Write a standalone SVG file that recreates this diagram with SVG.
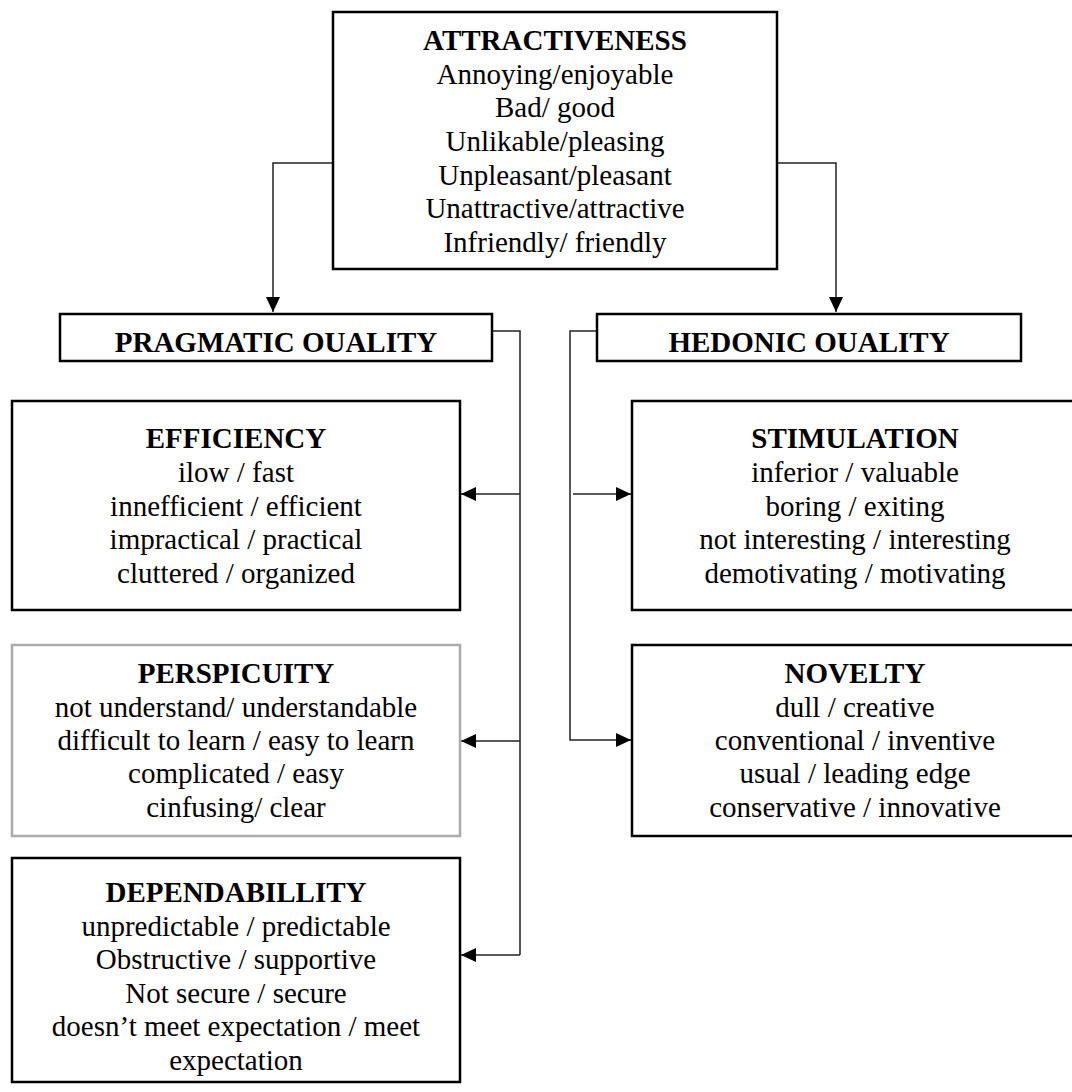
<svg xmlns="http://www.w3.org/2000/svg" width="1072" height="1092" viewBox="0 0 1072 1092">
<style>
.box{fill:#fff;stroke:#000;stroke-width:2.5}
.gray{fill:#fff;stroke:#aaaaaa;stroke-width:2.5}
.t{font-family:"Liberation Serif","Times New Roman",serif;font-size:29px;fill:#000;text-anchor:middle}
.b{font-weight:bold}
.c{fill:none;stroke:#222;stroke-width:1.5}
</style>
<defs>
<marker id="arr" markerUnits="userSpaceOnUse" markerWidth="16" markerHeight="14" refX="15" refY="7" orient="auto">
<path d="M0,0 L15,7 L0,14 Z" fill="#000"/>
</marker>
</defs>
<rect width="1072" height="1092" fill="#fff"/>
<g id="connectors">
<path class="c" d="M333,163 H273 V312" marker-end="url(#arr)"/>
<path class="c" d="M777,163 H836 V312" marker-end="url(#arr)"/>
<path class="c" d="M492,331 H520 V955"/>
<path class="c" d="M520,494 H461" marker-end="url(#arr)"/>
<path class="c" d="M520,741 H461" marker-end="url(#arr)"/>
<path class="c" d="M520,955 H461" marker-end="url(#arr)"/>
<path class="c" d="M597,331 H570 V740 H631" marker-end="url(#arr)"/>
<path class="c" d="M573,494 H631" marker-end="url(#arr)"/>
</g>
<g id="attractiveness">
<rect class="box" x="333" y="12" width="444" height="257"/>
<text class="t b" x="555" y="50">ATTRACTIVENESS</text>
<text class="t" x="555" y="83.7">Annoying/enjoyable</text>
<text class="t" x="555" y="117.3">Bad/ good</text>
<text class="t" x="555" y="151">Unlikable/pleasing</text>
<text class="t" x="555" y="184.7">Unpleasant/pleasant</text>
<text class="t" x="555" y="218.3">Unattractive/attractive</text>
<text class="t" x="555" y="252">Infriendly/ friendly</text>
</g>
<g id="pragmatic">
<rect class="box" x="60" y="314" width="432" height="47"/>
<text class="t b" x="276" y="352">PRAGMATIC OUALITY</text>
</g>
<g id="hedonic">
<rect class="box" x="597" y="314" width="424" height="47"/>
<text class="t b" x="809" y="352">HEDONIC OUALITY</text>
</g>
<g id="efficiency">
<rect class="box" x="12" y="401" width="448" height="209"/>
<text class="t b" x="236" y="448">EFFICIENCY</text>
<text class="t" x="236" y="482">ilow / fast</text>
<text class="t" x="236" y="515.5">innefficient / efficient</text>
<text class="t" x="236" y="549">impractical / practical</text>
<text class="t" x="236" y="583">cluttered / organized</text>
</g>
<g id="stimulation">
<rect class="box" x="632" y="401" width="446" height="209"/>
<text class="t b" x="855" y="448">STIMULATION</text>
<text class="t" x="855" y="482">inferior / valuable</text>
<text class="t" x="855" y="515.5">boring / exiting</text>
<text class="t" x="855" y="549">not interesting / interesting</text>
<text class="t" x="855" y="583">demotivating / motivating</text>
</g>
<g id="perspicuity">
<rect class="gray" x="12" y="645" width="448" height="191"/>
<text class="t b" x="236" y="683">PERSPICUITY</text>
<text class="t" x="236" y="716.7">not understand/ understandable</text>
<text class="t" x="236" y="750">difficult to learn / easy to learn</text>
<text class="t" x="236" y="783.3">complicated / easy</text>
<text class="t" x="236" y="817">cinfusing/ clear</text>
</g>
<g id="novelty">
<rect class="box" x="632" y="645" width="446" height="191"/>
<text class="t b" x="855" y="683">NOVELTY</text>
<text class="t" x="855" y="716.7">dull / creative</text>
<text class="t" x="855" y="750">conventional / inventive</text>
<text class="t" x="855" y="783.3">usual / leading edge</text>
<text class="t" x="855" y="817">conservative / innovative</text>
</g>
<g id="dependability">
<rect class="box" x="12" y="858" width="448" height="224"/>
<text class="t b" x="236" y="902">DEPENDABILLITY</text>
<text class="t" x="236" y="935.5">unpredictable / predictable</text>
<text class="t" x="236" y="969">Obstructive / supportive</text>
<text class="t" x="236" y="1002.7">Not secure / secure</text>
<text class="t" x="236" y="1036.3">doesn’t meet expectation / meet</text>
<text class="t" x="236" y="1070">expectation</text>
</g>
</svg>
